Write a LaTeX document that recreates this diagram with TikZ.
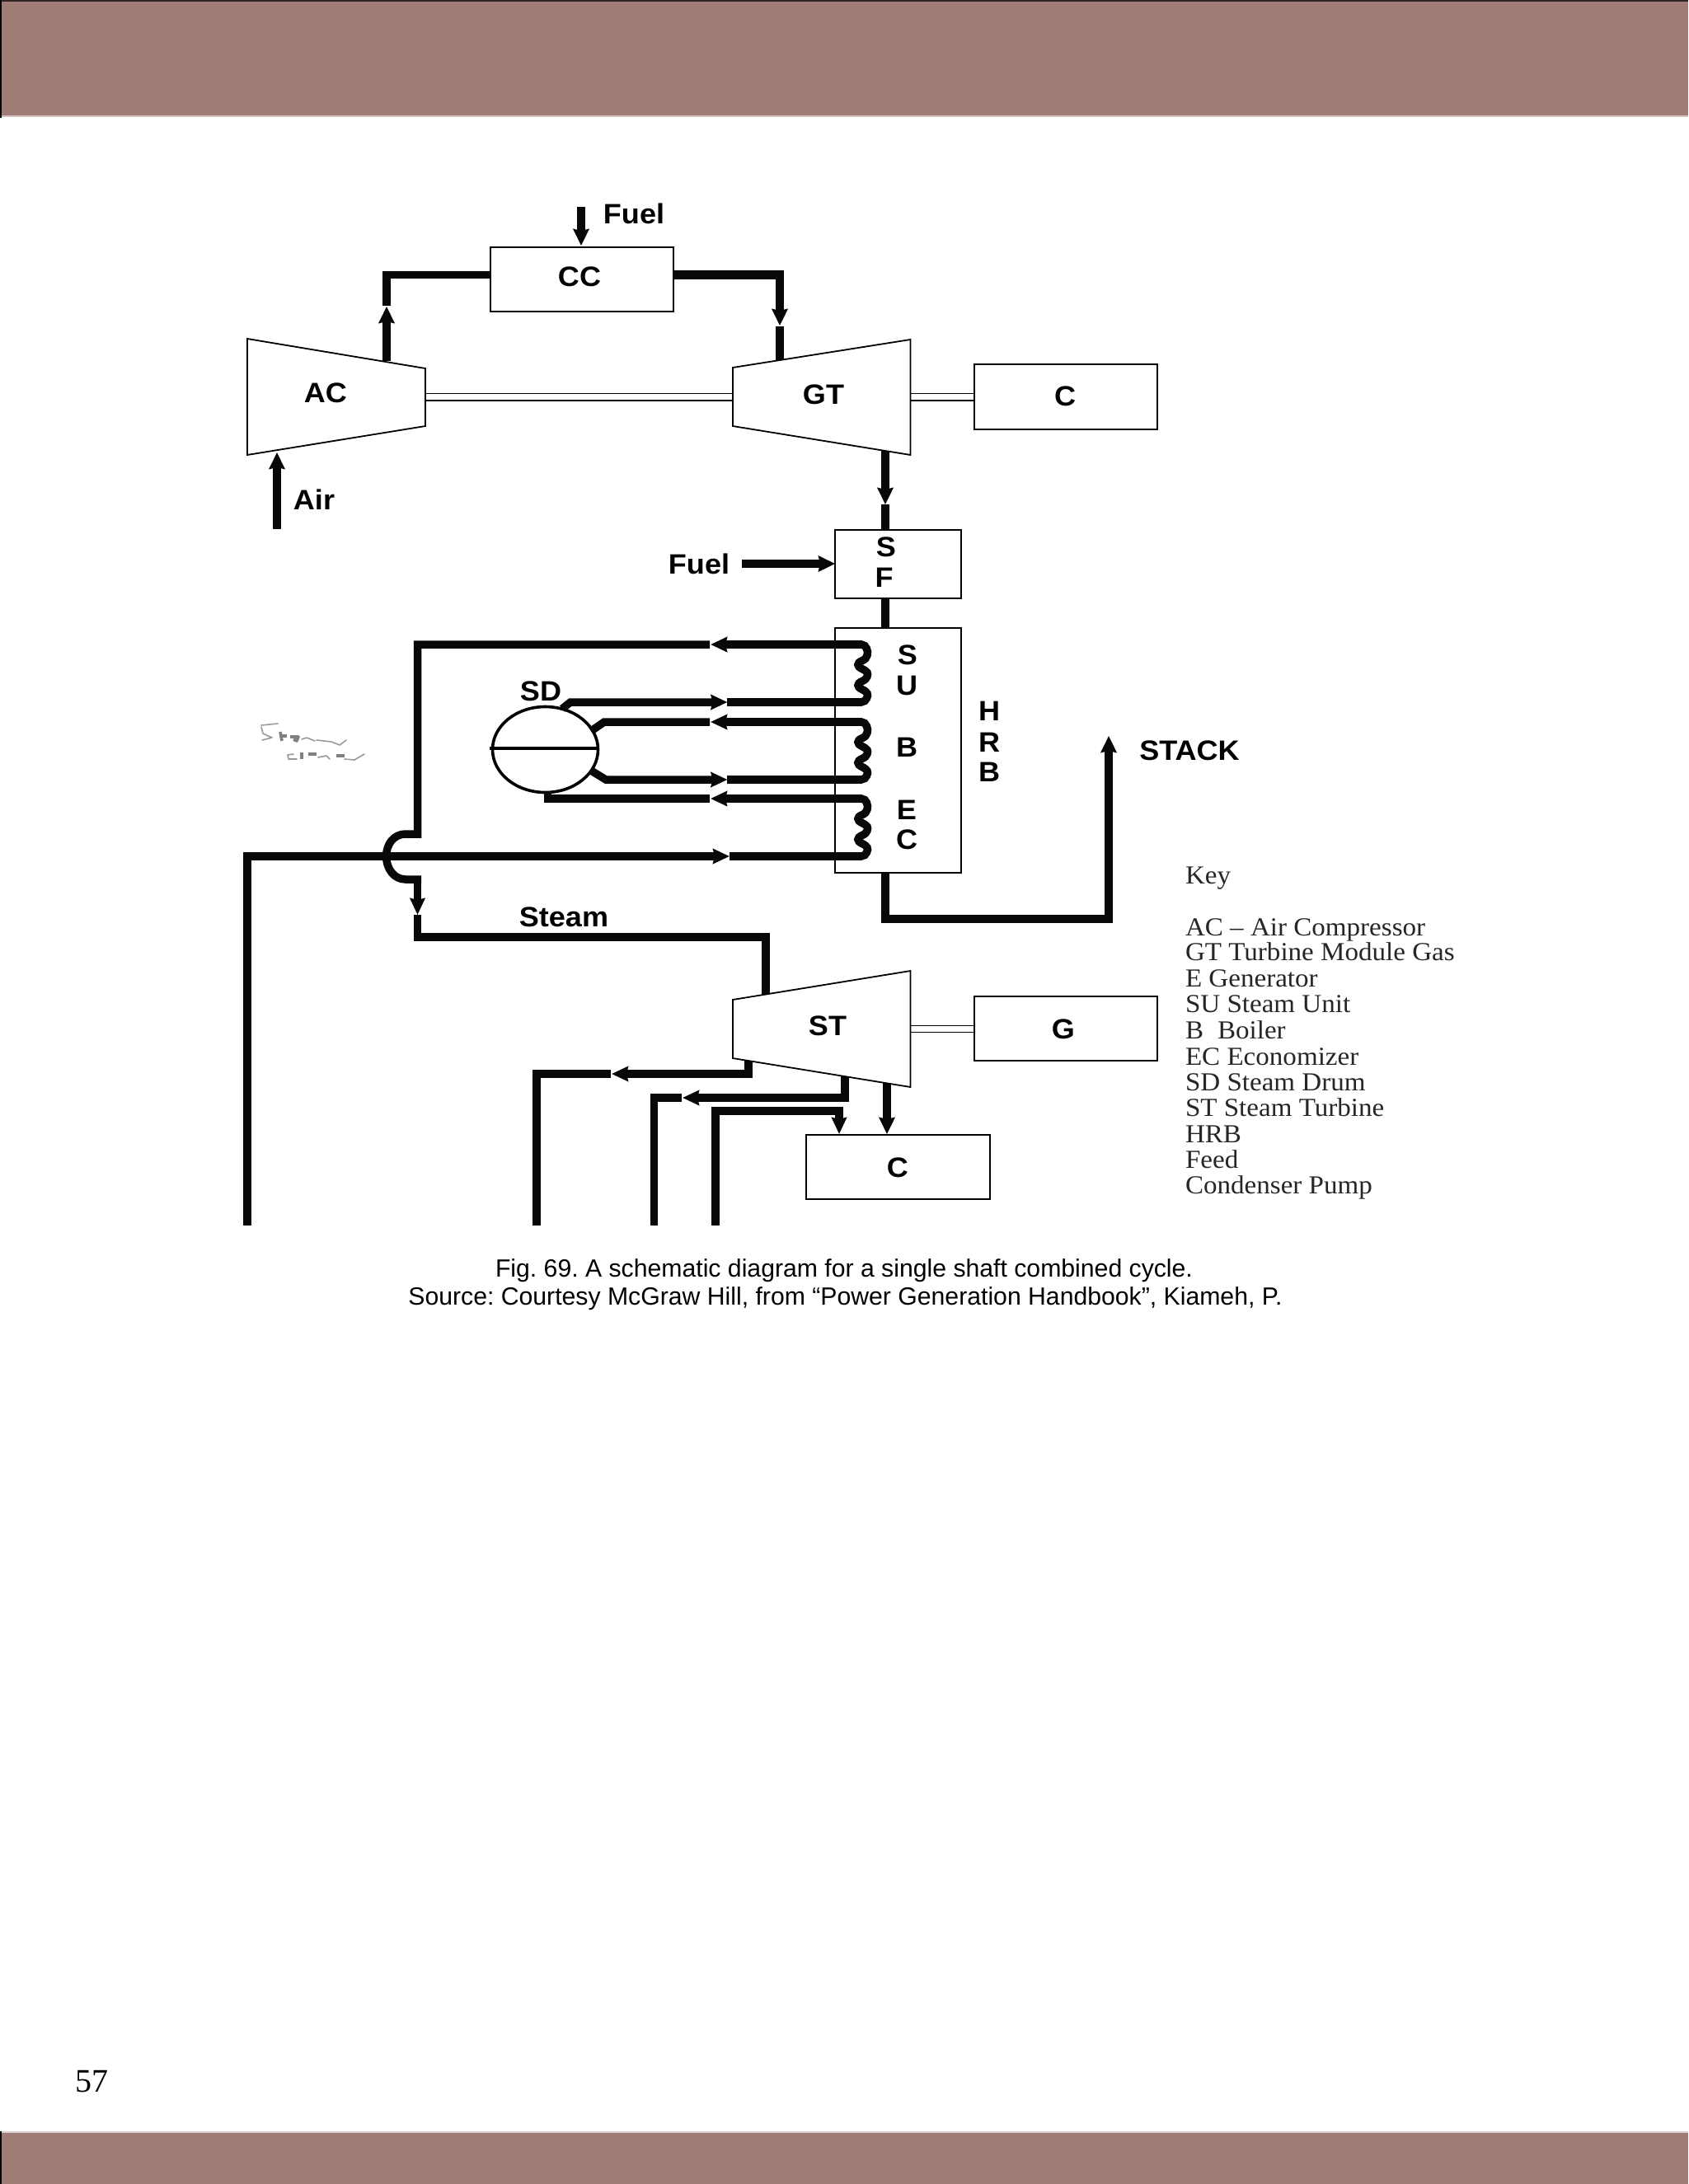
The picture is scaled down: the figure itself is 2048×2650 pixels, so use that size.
\documentclass[tikz,border=0pt]{standalone}
\usepackage{fontspec}
\usetikzlibrary{arrows.meta,calc,shapes.geometric}
\setmainfont{Liberation Sans}
\newfontfamily\labfont[FakeStretch=1.06]{Liberation Sans}
\newfontfamily\keyfont[FakeStretch=1.05]{Liberation Serif}
\newfontfamily\numfont{Liberation Serif}
\definecolor{bandcol}{RGB}{159,125,118}
\definecolor{inkcol}{RGB}{8,8,8}
\tikzset{
  x=1pt,y=-1pt,
  pipe/.style={draw=inkcol,line width=9.5pt,line cap=butt,line join=miter},
  flow/.style={pipe,line width=10.5pt,-{Stealth[length=20pt,width=19pt,inset=2pt]}},
  flowthin/.style={pipe,-{Stealth[length=20pt,width=18pt,inset=2pt]}},
  unit/.style={draw=black,line width=2pt,fill=white,inner sep=0pt,outer sep=0pt},
  casing/.style={draw=black,line width=1.8pt,line join=miter},
  shaftline/.style={draw=black,line width=1.8pt},
  lab/.style={inner sep=0pt,outer sep=0pt,font={\labfont\bfseries\fontsize{34}{38}\selectfont}},
  keyline/.style={anchor=base west,inner sep=0pt,outer sep=0pt,font={\keyfont\fontsize{31.5}{34}\selectfont},text=black!85},
  capline/.style={anchor=base,inner sep=0pt,outer sep=0pt,font={\fontsize{30.2}{34}\selectfont}},
  scrib/.style={draw=black!40,line width=1.6pt,line join=round,line cap=round},
  scribheavy/.style={draw=black!50,line width=3.6pt,line join=round,line cap=butt},
  hcoil/.pic={
    \draw[pipe] plot[smooth,tension=.65] coordinates {(1043,0)(1049,1.5)(1052.5,9)(1050,17)(1042,22)(1042,27)(1050,32)(1052.5,36)(1050,42)(1042,47)(1042,52)(1050,57)(1052.5,62)(1049,68.5)(1043,70)};
  }
}
\begin{document}
\frenchspacing
\begin{tikzpicture}
\useasboundingbox (0,0) rectangle (2048,2650);
\fill[white] (0,0) rectangle (2048,2650);
% page bands
\fill[bandcol] (0,0) rectangle (2048,140);
\fill[bandcol] (0,2588) rectangle (2048,2650);
\fill[black!70!bandcol] (0,0) rectangle (2048,2);
\fill[black] (0,0) rectangle (2,143);
\fill[black] (0,2586) rectangle (2,2650);
\fill[bandcol!45!white] (2,140) rectangle (2048,142);
\fill[bandcol!35!white] (2,2586) rectangle (2048,2588);
\node[inner sep=0pt,outer sep=0pt,anchor=base,font={\numfont\fontsize{40}{44}\selectfont}] (pagenum) at (111,2538) {57};

% boxes
\node[unit,minimum width=222pt,minimum height=78pt] (cc) at (706,339) {};
\node[unit,minimum width=222pt,minimum height=79pt] (cone) at (1292.5,481.5) {};
\node[unit,minimum width=153pt,minimum height=83pt] (sf) at (1089.5,684.5) {};
\node[unit,minimum width=153pt,minimum height=297pt] (hrb) at (1089.5,910.5) {};
\node[unit,minimum width=222pt,minimum height=78pt] (gen) at (1292.5,1248) {};
\node[unit,minimum width=223pt,minimum height=78pt] (ctwo) at (1089.5,1416) {};

% machine casings
\coordinate (aclt) at (300,411); \coordinate (acrt) at (516,447);
\coordinate (acrb) at (516,517); \coordinate (aclb) at (300,552);
\coordinate (gtlt) at (889,446); \coordinate (gtrt) at (1104.5,412);
\coordinate (gtrb) at (1104.5,552); \coordinate (gtlb) at (889,517);
\coordinate (stlt) at (889,1213); \coordinate (strt) at (1104.5,1178);
\coordinate (strb) at (1104.5,1319); \coordinate (stlb) at (889,1284);

% shafts
\coordinate (sha) at (0,477.5); \coordinate (shb) at (0,486);
\coordinate (shc) at (0,1244.5); \coordinate (shd) at (0,1252.5);
\draw[shaftline] (516,477.5) -- (889,477.5);
\draw[shaftline] (516,486) -- (889,486);
\draw[shaftline] (1104.5,477.5) -- (cone.west |- sha);
\draw[shaftline] (1104.5,486) -- (cone.west |- shb);
\draw[shaftline] (1104.5,1244.5) -- (gen.west |- shc);
\draw[shaftline] (1104.5,1252.5) -- (gen.west |- shd);

% named joints
\coordinate (fueltop) at (705,251);
\coordinate (acout) at (469,438);
\coordinate (acgap) at (469,371);
\coordinate (accorner) at (469,333.5);
\coordinate (gtcorner) at (946,333.5);
\coordinate (gtgap) at (946,396);
\coordinate (gtin) at (946,438);
\coordinate (airin) at (336,642);
\coordinate (airtip) at (336,549);
\coordinate (gtout) at (1074,547);
\coordinate (gtouttip) at (1074,612);
\coordinate (sfin) at (1074,612);
\coordinate (fuelb) at (900,684);

% gas-side pipes
\draw[flow] (fueltop) -- (705,298);
\draw[flow] (acout) -- (469,372);
\draw[pipe] (acgap) -- (accorner) -- (cc.west |- accorner);
\draw[flow] (cc.east |- gtcorner) -- (gtcorner) -- (946,395);
\draw[pipe,line width=10.5pt] (gtgap) -- (gtin);
\draw[flow] (airin) -- (airtip);
\draw[flow] (gtout) -- (gtouttip);
\draw[pipe,line width=10.5pt] (sfin) -- (sfin |- sf.north);
\draw[flow] (fuelb) -- (sf.west |- fuelb);
\draw[pipe,line width=10.5pt] (1074,726) -- (1074,762);

% stack
\coordinate (stackc1) at (1074,1115);
\coordinate (stackc2) at (1345,1115);
\draw[flow,line width=10pt] (1074,1059) -- (stackc1) -- (stackc2) -- (1345,893);

% coils
\pic at (0,782) {hcoil};
\pic at (0,876) {hcoil};
\pic at (0,969) {hcoil};

% steam and water lines to/from coils
\draw[flowthin] (1046,782) -- (862,782);
\draw[pipe] (861,782) -- (506.5,782) -- (506.5,1012) -- (492,1012)
   .. controls (478,1012) and (468.6,1024) .. (468.6,1039)
   .. controls (468.6,1054) and (478,1067) .. (492,1067) -- (511,1067);
\draw[flowthin] (506.5,1063) -- (506.5,1110);
\coordinate (steamc1) at (506.5,1137);
\coordinate (steamc2) at (929,1137);
\draw[pipe] (506.5,1110) -- (steamc1) -- (steamc2) -- (929,1207);

% drum
\node[draw=black,line width=3.6pt,ellipse,fill=white,minimum width=128pt,minimum height=104pt,inner sep=0pt,outer sep=0pt] (sd) at (661.5,909.5) {};
\draw[black,line width=4.2pt] (594,908) -- (726,908);

\draw[flowthin] (682,860) -- (692,852) -- (882.5,852);
\draw[pipe] (882,852) -- (1046,852);
\draw[pipe] (717,887) -- (733,876) -- (861,876);
\draw[flowthin] (1046,876) -- (862,876);
\draw[flowthin] (717,935) -- (735,946) -- (882.5,946);
\draw[pipe] (882,946) -- (1046,946);
\draw[pipe] (664.5,960) -- (664.5,969) -- (861,969);
\draw[flowthin] (1046,969) -- (862,969);

% feed line
\coordinate (feedc) at (300,1039);
\draw[flowthin] (300,1487) -- (feedc) -- (885,1039);
\draw[pipe] (884.5,1039) -- (1046,1039);

% steam turbine outlets
\draw[flowthin] (908,1285) -- (908,1303) -- (742,1303);
\draw[pipe] (741,1303) -- (651,1303) -- (651,1487);
\draw[flowthin] (1025,1305) -- (1025,1332) -- (828,1332);
\draw[pipe] (827,1332) -- (793.5,1332) -- (793.5,1487);
\coordinate (condleft) at (868,1348);
\draw[flowthin] (868,1487) -- (condleft) -- (1018,1348) -- (1018,1376);
\draw[flow] (1076,1313) -- (1076,1376);

% casings drawn over pipe ends
\draw[casing,fill=white] (aclt) -- (acrt) -- (acrb) -- (aclb) -- cycle;
\draw[casing,fill=white] (gtlt) -- (gtrt) -- (gtrb) -- (gtlb) -- cycle;
\draw[casing,fill=white] (stlt) -- (strt) -- (strb) -- (stlb) -- cycle;

% labels
\node[lab] (lcc) at (703,336) {CC};
\node[lab] (lfuela) at (769,259) {Fuel};
\node[lab] (lac) at (395,477) {AC};
\node[lab] (lair) at (381,606) {Air};
\node[lab] (lgt) at (999,479) {GT};
\node[lab] (lc) at (1292,481) {C};
\node[lab] (lsfs) at (1075,664) {S};
\node[lab] (lsff) at (1072.5,701) {F};
\node[lab] (lfuelb) at (848,684) {Fuel};
\node[lab] (ls) at (1101,795) {S};
\node[lab] (lu) at (1100,832) {U};
\node[lab] (lb) at (1100,907) {B};
\node[lab] (le) at (1100,983) {E};
\node[lab] (lec) at (1100,1019) {C};
\node[lab] (lh) at (1200,863) {H};
\node[lab] (lr) at (1200,901) {R};
\node[lab] (lbb) at (1200,937) {B};
\node[lab] (lsd) at (656,839) {SD};
\node[lab] (lstack) at (1443,911) {STACK};
\node[lab] (lsteam) at (684,1113) {Steam};
\node[lab] (lst) at (1004,1245) {ST};
\node[lab] (lg) at (1290,1249) {G};
\node[lab] (lcb) at (1089,1417) {C};

% faint handwriting
\draw[scrib] (317,880) -- (337,878);
\draw[scrib] (317,882) -- (319,890) -- (330,895) -- (318,898);
\draw[scribheavy] (340,888) -- (342,899);
\draw[scribheavy] (340,893) -- (348,893);
\draw[scribheavy] (352,894) -- (362,894) -- (360,899) -- (356,897);
\draw[scrib] (366,897) -- (372,895) -- (382,899);
\draw[scrib] (384,898) -- (402,900) -- (412,904) -- (420,898);
\draw[scrib] (356,915) -- (349,916) -- (350,921) -- (360,921);
\draw[scribheavy] (366,913) -- (366,921);
\draw[scribheavy] (374,915) -- (384,915);
\draw[scrib] (386,919) -- (396,917) -- (400,921);
\draw[scribheavy] (408,917) -- (418,917);
\draw[scrib] (418,921) -- (430,922) -- (442,915);

% key
\node[keyline] (k0) at (1438,1072) {Key};
\node[keyline] (k1) at (1438,1135) {AC – Air Compressor};
\node[keyline] (k2) at (1438,1165) {GT Turbine Module Gas};
\node[keyline] (k3) at (1438,1197) {E Generator};
\node[keyline] (k4) at (1438,1228) {SU Steam Unit};
\node[keyline] (k5) at (1438,1260) {B\hspace{17pt}Boiler};
\node[keyline] (k6) at (1438,1292) {EC Economizer};
\node[keyline] (k7) at (1438,1323) {SD Steam Drum};
\node[keyline] (k8) at (1438,1354) {ST Steam Turbine};
\node[keyline] (k9) at (1438,1386) {HRB};
\node[keyline] (k10) at (1438,1417) {Feed};
\node[keyline] (k11) at (1438,1448) {Condenser Pump};

% caption
\node[capline] (cap1) at (1024,1549) {Fig. 69. A schematic diagram for a single shaft combined cycle.};
\node[capline] (cap2) at (1025.5,1583) {Source: Courtesy McGraw Hill, from “Power Generation Handbook”, Kiameh, P.};
\end{tikzpicture}
\end{document}
